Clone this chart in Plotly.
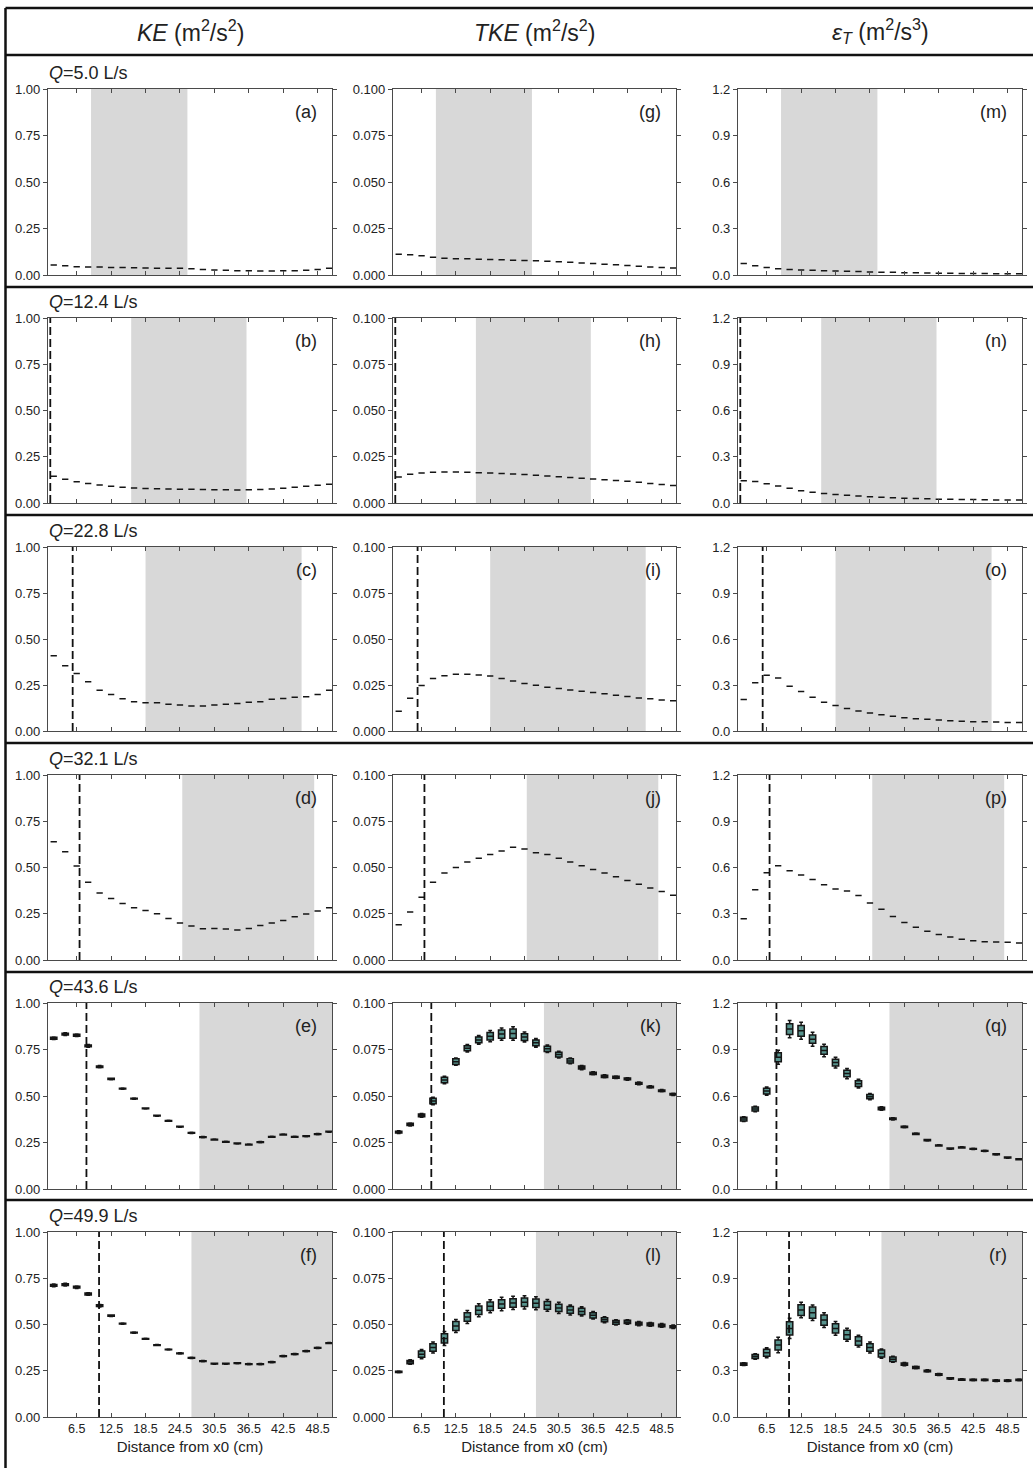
import plotly.graph_objects as go

W, H = 1033, 1468

# Measurement stations along the flume (cm from x0)
X_POS = [2.5, 4.5, 6.5, 8.5, 10.5, 12.5, 14.5, 16.5, 18.5, 20.5, 22.5, 24.5, 26.5,
         28.5, 30.5, 32.5, 34.5, 36.5, 38.5, 40.5, 42.5, 44.5, 46.5, 48.5, 50.5]
X_TICKS = [6.5, 12.5, 18.5, 24.5, 30.5, 36.5, 42.5, 48.5]

FLOWS = ["5.0", "12.4", "22.8", "32.1", "43.6", "49.9"]

# Median values per station -------------------------------------------------
KE_5_0 = [0.054, 0.050, 0.045, 0.043, 0.043, 0.041, 0.041, 0.039, 0.038, 0.036, 0.036, 0.036, 0.034,
          0.030, 0.027, 0.025, 0.023, 0.023, 0.022, 0.022, 0.023, 0.023, 0.025, 0.030, 0.036]
TKE_5_0 = [0.0111, 0.0109, 0.0104, 0.0095, 0.0090, 0.0088, 0.0087, 0.0085, 0.0084, 0.0082, 0.0080,
           0.0078, 0.0076, 0.0074, 0.0071, 0.0068, 0.0065, 0.0062, 0.0058, 0.0055, 0.0051, 0.0047,
           0.0043, 0.0040, 0.0037]
EPS_5_0 = [0.075, 0.060, 0.048, 0.040, 0.035, 0.032, 0.030, 0.028, 0.026, 0.024, 0.022, 0.020, 0.018,
           0.017, 0.015, 0.014, 0.013, 0.012, 0.011, 0.010, 0.009, 0.009, 0.008, 0.008, 0.008]

KE_12_4 = [0.145, 0.128, 0.115, 0.105, 0.097, 0.090, 0.085, 0.081, 0.078, 0.077, 0.076, 0.075, 0.074,
           0.073, 0.072, 0.071, 0.070, 0.071, 0.073, 0.076, 0.080, 0.085, 0.090, 0.096, 0.102]
TKE_12_4 = [0.0140, 0.0155, 0.0162, 0.0166, 0.0167, 0.0167, 0.0166, 0.0164, 0.0162, 0.0160, 0.0157,
            0.0154, 0.0150, 0.0146, 0.0142, 0.0138, 0.0134, 0.0130, 0.0126, 0.0122, 0.0118, 0.0112,
            0.0106, 0.0100, 0.0095]
EPS_12_4 = [0.145, 0.140, 0.125, 0.110, 0.095, 0.080, 0.070, 0.062, 0.055, 0.050, 0.045, 0.041, 0.037,
            0.034, 0.031, 0.029, 0.027, 0.025, 0.024, 0.023, 0.022, 0.021, 0.020, 0.020, 0.020]

KE_22_8 = [0.409, 0.355, 0.313, 0.268, 0.222, 0.199, 0.175, 0.159, 0.154, 0.154, 0.146, 0.141, 0.136,
           0.136, 0.141, 0.145, 0.150, 0.156, 0.159, 0.172, 0.177, 0.183, 0.186, 0.199, 0.222]
TKE_22_8 = [0.0108, 0.0178, 0.0247, 0.0285, 0.0301, 0.0308, 0.0308, 0.0305, 0.0299, 0.0286, 0.0272,
            0.0258, 0.0249, 0.0238, 0.0231, 0.0223, 0.0216, 0.0209, 0.0202, 0.0195, 0.0187, 0.0180,
            0.0175, 0.0169, 0.0164]
EPS_22_8 = [0.205, 0.314, 0.363, 0.346, 0.292, 0.257, 0.221, 0.188, 0.166, 0.147, 0.130, 0.117, 0.106,
            0.097, 0.086, 0.080, 0.076, 0.071, 0.067, 0.063, 0.061, 0.061, 0.058, 0.056, 0.056]

KE_32_1 = [0.640, 0.586, 0.508, 0.420, 0.362, 0.333, 0.306, 0.283, 0.267, 0.250, 0.225, 0.200, 0.184,
           0.169, 0.171, 0.168, 0.162, 0.171, 0.187, 0.200, 0.214, 0.234, 0.249, 0.265, 0.283]
TKE_32_1 = [0.019, 0.026, 0.034, 0.042, 0.047, 0.050, 0.053, 0.055, 0.057, 0.059, 0.061, 0.060, 0.058,
            0.057, 0.055, 0.053, 0.051, 0.049, 0.047, 0.045, 0.043, 0.041, 0.039, 0.037, 0.035]
EPS_32_1 = [0.268, 0.456, 0.566, 0.612, 0.579, 0.551, 0.523, 0.489, 0.461, 0.448, 0.419, 0.370, 0.329,
            0.283, 0.244, 0.212, 0.186, 0.166, 0.149, 0.134, 0.125, 0.119, 0.117, 0.115, 0.110]

KE_43_6 = [0.811, 0.833, 0.827, 0.770, 0.658, 0.592, 0.540, 0.486, 0.433, 0.394, 0.367, 0.335, 0.302,
           0.279, 0.266, 0.254, 0.245, 0.239, 0.252, 0.281, 0.293, 0.281, 0.284, 0.295, 0.308]
TKE_43_6 = [0.0306, 0.0347, 0.0396, 0.0473, 0.0586, 0.0685, 0.0757, 0.0802, 0.0822, 0.0833, 0.0836,
            0.0817, 0.0786, 0.0754, 0.0723, 0.0689, 0.0653, 0.0622, 0.0606, 0.0601, 0.0592, 0.0568,
            0.0549, 0.0529, 0.0509]
EPS_43_6 = [0.451, 0.516, 0.632, 0.850, 1.032, 1.021, 0.967, 0.894, 0.816, 0.745, 0.680, 0.596, 0.520,
            0.453, 0.401, 0.356, 0.315, 0.281, 0.261, 0.268, 0.259, 0.246, 0.224, 0.203, 0.192]

KE_49_9 = [0.712, 0.716, 0.702, 0.665, 0.602, 0.548, 0.505, 0.456, 0.423, 0.389, 0.365, 0.344, 0.320,
           0.302, 0.288, 0.288, 0.291, 0.286, 0.286, 0.297, 0.329, 0.340, 0.356, 0.374, 0.400]
TKE_49_9 = [0.0244, 0.0297, 0.0340, 0.0376, 0.0425, 0.0492, 0.0541, 0.0577, 0.0599, 0.0611, 0.0617,
            0.0620, 0.0615, 0.0604, 0.0590, 0.0579, 0.0571, 0.0550, 0.0526, 0.0512, 0.0514, 0.0505,
            0.0501, 0.0495, 0.0488]
EPS_49_9 = [0.343, 0.393, 0.417, 0.467, 0.575, 0.694, 0.677, 0.629, 0.575, 0.534, 0.493, 0.451, 0.412,
            0.375, 0.343, 0.321, 0.299, 0.276, 0.250, 0.243, 0.241, 0.241, 0.236, 0.236, 0.241]

# Half interquartile range and whisker reach (from the median) at the two highest flows
KE_43_6_HALF = [0.005, 0.005, 0.005, 0.005, 0.004, 0.003, 0.002, 0.002, 0.002, 0.002, 0.002, 0.002, 0.002,
                0.002, 0.002, 0.002, 0.002, 0.002, 0.002, 0.002, 0.002, 0.002, 0.002, 0.002, 0.002]
KE_43_6_REACH = [0.007, 0.007, 0.007, 0.007, 0.006, 0.004, 0.003, 0.003, 0.003, 0.003, 0.003, 0.003, 0.003,
                 0.003, 0.003, 0.003, 0.003, 0.003, 0.003, 0.003, 0.003, 0.003, 0.003, 0.003, 0.003]
TKE_43_6_HALF = [0.0005, 0.0006, 0.0008, 0.0015, 0.0015, 0.0015, 0.0014, 0.0016, 0.0020, 0.0022, 0.0025,
                 0.0018, 0.0016, 0.0014, 0.0013, 0.0011, 0.0008, 0.0006, 0.0006, 0.0005, 0.0005, 0.0005,
                 0.0004, 0.0004, 0.0004]
TKE_43_6_REACH = [0.0007, 0.0008, 0.0010, 0.0020, 0.0020, 0.0020, 0.0020, 0.0024, 0.0030, 0.0033, 0.0036,
                  0.0027, 0.0023, 0.0020, 0.0018, 0.0015, 0.0011, 0.0008, 0.0008, 0.0007, 0.0007, 0.0007,
                  0.0006, 0.0006, 0.0006]
EPS_43_6_HALF = [0.012, 0.013, 0.019, 0.029, 0.035, 0.035, 0.027, 0.025, 0.022, 0.021, 0.019, 0.014, 0.008,
                 0.005, 0.004, 0.004, 0.004, 0.003, 0.003, 0.003, 0.003, 0.003, 0.003, 0.003, 0.003]
EPS_43_6_REACH = [0.016, 0.018, 0.027, 0.045, 0.055, 0.055, 0.045, 0.040, 0.035, 0.033, 0.028, 0.020, 0.011,
                  0.007, 0.006, 0.005, 0.005, 0.004, 0.004, 0.004, 0.004, 0.004, 0.004, 0.004, 0.004]

KE_49_9_HALF = [0.005, 0.005, 0.005, 0.005, 0.005, 0.003, 0.002, 0.002, 0.002, 0.002, 0.002, 0.002, 0.002,
                0.002, 0.002, 0.002, 0.002, 0.002, 0.002, 0.002, 0.002, 0.002, 0.002, 0.002, 0.002]
KE_49_9_REACH = [0.007, 0.007, 0.007, 0.007, 0.007, 0.004, 0.003, 0.003, 0.003, 0.003, 0.003, 0.003, 0.003,
                 0.003, 0.003, 0.003, 0.003, 0.003, 0.003, 0.003, 0.003, 0.003, 0.003, 0.003, 0.003]
TKE_49_9_HALF = [0.0004, 0.0009, 0.0017, 0.0020, 0.0025, 0.0024, 0.0023, 0.0023, 0.0023, 0.0023, 0.0023,
                 0.0023, 0.0023, 0.0021, 0.0020, 0.0018, 0.0017, 0.0014, 0.0011, 0.0010, 0.0009, 0.0008,
                 0.0007, 0.0007, 0.0006]
TKE_49_9_REACH = [0.0005, 0.0012, 0.0025, 0.0030, 0.0038, 0.0035, 0.0035, 0.0035, 0.0035, 0.0036, 0.0036,
                  0.0036, 0.0035, 0.0032, 0.0030, 0.0027, 0.0025, 0.0020, 0.0016, 0.0014, 0.0012, 0.0011,
                  0.0010, 0.0010, 0.0009]
EPS_49_9_HALF = [0.007, 0.013, 0.022, 0.033, 0.043, 0.035, 0.036, 0.033, 0.030, 0.029, 0.027, 0.025, 0.022,
                 0.015, 0.008, 0.006, 0.005, 0.005, 0.004, 0.004, 0.004, 0.004, 0.004, 0.004, 0.004]
EPS_49_9_REACH = [0.009, 0.018, 0.032, 0.050, 0.065, 0.050, 0.050, 0.048, 0.045, 0.042, 0.038, 0.035, 0.030,
                  0.020, 0.011, 0.008, 0.007, 0.006, 0.005, 0.005, 0.005, 0.005, 0.005, 0.005, 0.005]

# Shaded zone (cm) and dashed marker position (cm) for each discharge
SHADE_START = [9.0, 16.0, 18.5, 24.9, 27.9, 26.5]
SHADE_END = [25.8, 36.1, 45.7, 47.9, 51.0, 51.0]
DASH_X = [None, 1.9, 5.8, 7.0, 8.2, 10.4]

MEDIANS = [
    [KE_5_0, TKE_5_0, EPS_5_0],
    [KE_12_4, TKE_12_4, EPS_12_4],
    [KE_22_8, TKE_22_8, EPS_22_8],
    [KE_32_1, TKE_32_1, EPS_32_1],
    [KE_43_6, TKE_43_6, EPS_43_6],
    [KE_49_9, TKE_49_9, EPS_49_9],
]
HALVES = {
    (4, 0): (KE_43_6_HALF, KE_43_6_REACH),
    (4, 1): (TKE_43_6_HALF, TKE_43_6_REACH),
    (4, 2): (EPS_43_6_HALF, EPS_43_6_REACH),
    (5, 0): (KE_49_9_HALF, KE_49_9_REACH),
    (5, 1): (TKE_49_9_HALF, TKE_49_9_REACH),
    (5, 2): (EPS_49_9_HALF, EPS_49_9_REACH),
}

COL_TITLES = ["<i>KE</i> (m<sup>2</sup>/s<sup>2</sup>)",
              "<i>TKE</i> (m<sup>2</sup>/s<sup>2</sup>)",
              "<i>ε<sub>T</sub></i> (m<sup>2</sup>/s<sup>3</sup>)"]
Y_TICKS = [[0, 0.25, 0.5, 0.75, 1.0],
           [0, 0.025, 0.05, 0.075, 0.1],
           [0, 0.3, 0.6, 0.9, 1.2]]
Y_FMT = [".2f", ".3f", ".1f"]
LETTERS = "abcdefghijklmnopqr"

# Pixel layout of the grid
COL_X = [(48, 332), (393, 676), (738, 1022)]
ROW_Y = [(89, 275), (318, 503), (547, 731), (775, 960), (1003, 1189), (1232, 1417)]
SEPARATORS = [55, 287, 515, 743, 972, 1200]

FONT = "Liberation Sans, Arial, sans-serif"
TEXT = "#222222"
AXIS = "#4a4a4a"
BOX_FILL = "rgb(88,148,142)"
SHADE = "rgb(216,216,216)"


def px(x):
    return x / W


def py(y):
    return 1 - y / H


fig = go.Figure()
layout = dict(width=W, height=H, margin=dict(l=0, r=0, t=0, b=0, pad=0, autoexpand=False),
              autosize=False, template="none",
              paper_bgcolor="white", plot_bgcolor="white", showlegend=False,
              font=dict(family=FONT, color=TEXT, size=13))
shapes, annotations = [], []

for r in range(6):
    for c in range(3):
        n = r * 3 + c + 1
        sfx = "" if n == 1 else str(n)
        med = MEDIANS[r][c]
        if (r, c) in HALVES:
            half, reach = HALVES[(r, c)]
        else:
            half = reach = [0.0] * len(med)
        fig.add_trace(go.Box(
            x=X_POS,
            q1=[m - h for m, h in zip(med, half)],
            median=med,
            q3=[m + h for m, h in zip(med, half)],
            lowerfence=[m - w for m, w in zip(med, reach)],
            upperfence=[m + w for m, w in zip(med, reach)],
            xaxis="x" + sfx, yaxis="y" + sfx,
            width=1.1, whiskerwidth=0.6, boxpoints=False,
            fillcolor=BOX_FILL, line=dict(color="#151515", width=1.5),
            hoverinfo="skip", showlegend=False,
        ))
        x0, x1 = COL_X[c]
        y0, y1 = ROW_Y[r]
        top = Y_TICKS[c][-1]
        xaxis = dict(
            domain=[px(x0), px(x1)], anchor="y" + sfx, range=[1.5, 51.0], automargin=False,
            tickvals=X_TICKS, tickformat=".1f", showticklabels=(r == 5),
            ticks="inside", ticklen=4, tickwidth=1, tickcolor=AXIS,
            showline=True, linecolor=AXIS, linewidth=1.2, mirror="ticks",
            showgrid=False, zeroline=False, tickfont=dict(size=12.5, color=TEXT),
        )
        if r == 5:
            xaxis["title"] = dict(text="Distance from x0 (cm)", font=dict(size=15, color=TEXT), standoff=6)
        layout["xaxis" + sfx] = xaxis
        layout["yaxis" + sfx] = dict(
            domain=[py(y1), py(y0)], anchor="x" + sfx, range=[0, top * 1.0004], automargin=False,
            tickvals=Y_TICKS[c], tickformat=Y_FMT[c],
            ticks="outside", ticklen=4, tickwidth=1, tickcolor=AXIS,
            showline=True, linecolor=AXIS, linewidth=1.2, mirror="ticks",
            showgrid=False, zeroline=False, tickfont=dict(size=13, color=TEXT),
        )
        # shaded zone
        shapes.append(dict(type="rect", xref="x" + sfx, yref="y" + sfx + " domain",
                           x0=SHADE_START[r], x1=SHADE_END[r], y0=0, y1=1,
                           fillcolor=SHADE, line=dict(width=0), layer="below"))
        # dashed marker
        if DASH_X[r] is not None:
            shapes.append(dict(type="line", xref="x" + sfx, yref="y" + sfx + " domain",
                               x0=DASH_X[r], x1=DASH_X[r], y0=0, y1=1,
                               line=dict(color="#111111", width=1.8, dash="8px,4px")))
        # panel letter
        annotations.append(dict(text="(" + LETTERS[c * 6 + r] + ")", xref="x" + sfx + " domain",
                                yref="y" + sfx + " domain", x=0.955, y=1 - 23 / (y1 - y0),
                                xanchor="right", yanchor="middle", showarrow=False,
                                font=dict(size=18, color=TEXT)))
    # discharge label for the row
    annotations.append(dict(text="<i>Q</i>=" + FLOWS[r] + " L/s", xref="paper", yref="paper",
                            x=px(47), y=py(ROW_Y[r][0] - 16), xanchor="left", yanchor="middle",
                            showarrow=False, font=dict(size=18, color=TEXT)))

for c in range(3):
    x0, x1 = COL_X[c]
    annotations.append(dict(text=COL_TITLES[c], xref="paper", yref="paper",
                            x=px((x0 + x1) / 2), y=py(31), xanchor="center", yanchor="middle",
                            showarrow=False, font=dict(size=23, color=TEXT)))

# outer frame and row separators
FRAME = "#111111"
shapes.append(dict(type="line", xref="paper", yref="paper", x0=px(5.5), x1=px(5.5),
                   y0=py(8), y1=py(1470), line=dict(color=FRAME, width=2.5)))
shapes.append(dict(type="line", xref="paper", yref="paper", x0=px(5.5), x1=px(1033),
                   y0=py(8), y1=py(8), line=dict(color=FRAME, width=2.5)))
for s in SEPARATORS:
    shapes.append(dict(type="line", xref="paper", yref="paper", x0=px(5.5), x1=px(1033),
                       y0=py(s), y1=py(s), line=dict(color=FRAME, width=2.5)))

layout["shapes"] = shapes
layout["annotations"] = annotations
fig.update_layout(**layout)
fig.write_html("out.html")
